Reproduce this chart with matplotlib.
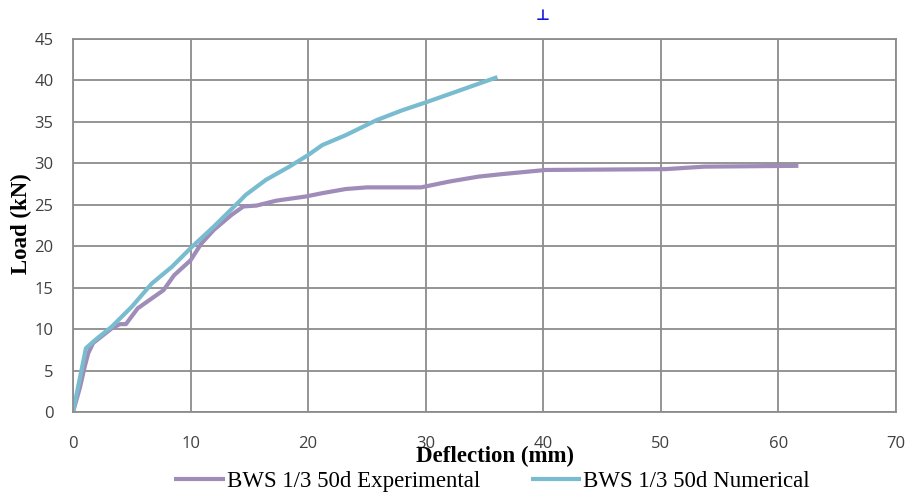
import numpy as np
import matplotlib.pyplot as plt

# load-deflection data
exp_x = [0, 0.6, 1.0, 1.3, 1.7, 3.3, 4.0, 4.5, 5.5, 6.7, 7.7, 8.6, 10.0, 10.9, 12.0, 13.5,
         14.5, 15.6, 17.3, 19.8, 21.2, 23.2, 25.0, 29.6, 32.0, 34.5, 36.5, 40.2, 50.4, 53.7, 61.7]
exp_y = [0, 3.0, 5.5, 7.1, 8.3, 10.1, 10.6, 10.6, 12.5, 13.7, 14.7, 16.5, 18.3, 20.3, 22.0, 23.8,
         24.8, 24.9, 25.5, 26.0, 26.4, 26.9, 27.1, 27.1, 27.8, 28.4, 28.7, 29.2, 29.3, 29.6, 29.7]

num_x = [0, 1.1, 1.9, 3.3, 5.0, 6.7, 8.4, 10.1, 12.0, 14.0, 14.7, 16.4, 18.4, 20.0, 21.2,
         23.2, 25.8, 28.0, 30.1, 31.7, 34.5, 36.1]
num_y = [0, 7.7, 8.7, 10.3, 12.7, 15.5, 17.5, 19.9, 22.4, 25.2, 26.2, 28.0, 29.6, 31.0, 32.2,
         33.4, 35.2, 36.4, 37.4, 38.2, 39.6, 40.4]

labels = ['BWS 1/3 50d Experimental', 'BWS 1/3 50d Numerical']
colors = ['#9f8cb9', '#79bccf']

fig = plt.figure(figsize=(9.11, 4.94), dpi=100)
ax = fig.add_axes([73/911, 82/494, 823/911, 373/494])

ax.plot(exp_x, exp_y, color=colors[0], lw=3, label=labels[0], solid_capstyle='butt')
ax.plot(num_x, num_y, color=colors[1], lw=3, label=labels[1], solid_capstyle='butt')

ax.set_xlim(0, 70)
ax.set_ylim(0, 45)
ax.set_xticks(np.arange(0, 71, 10))
ax.set_yticks(np.arange(0, 46, 5))
ax.grid(True, color='#8c8c8c', lw=1.3)
ax.set_axisbelow(True)
for s in ax.spines.values():
    s.set_color('#8c8c8c')
    s.set_linewidth(1.3)
ax.tick_params(axis='both', length=0, labelsize=12, colors='#404040')
ax.tick_params(axis='x', pad=17)
ax.tick_params(axis='y', pad=14)
for t in ax.get_xticklabels() + ax.get_yticklabels():
    t.set_fontfamily('Open Sans')

fig.text(21/911, 1 - 224/494, 'Load (kN)', fontfamily='Liberation Serif', fontweight='bold',
         fontsize=16.5, rotation=90, ha='center', va='center')
fig.text(495/911, 1 - 456/494, 'Deflection (mm)', fontfamily='Liberation Serif',
         fontweight='bold', fontsize=16.5, ha='center', va='center')

fig.legend(loc='center', bbox_to_anchor=(492/911, 1 - 481/494), ncol=2, frameon=False,
           prop={'family': 'Liberation Serif', 'size': 16.5}, handlelength=2.2,
           handletextpad=0.1, columnspacing=2.2)

fig.text(543/911, 1 - 15/494, '\u22a5', color='#1010e0', fontsize=11, fontweight='bold',
         ha='center', va='center')

fig.savefig('out.png', dpi=100)
